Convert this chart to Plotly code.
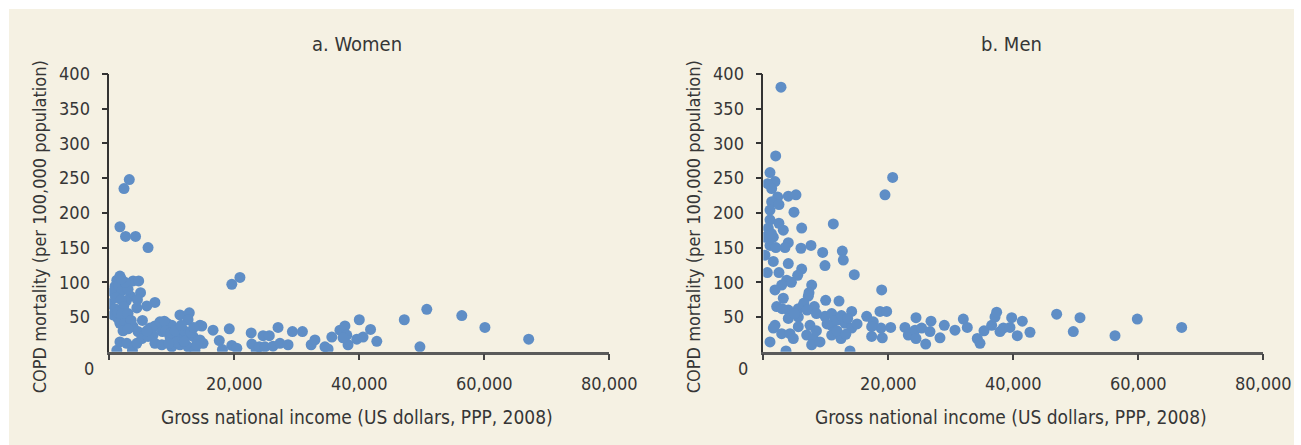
import plotly.graph_objects as go

# COPD mortality vs gross national income, by sex
women_gni = [3200, 2350, 1700, 2600, 4200, 6200, 19600, 20900,
             1700, 1200, 3800, 4700, 900, 600, 5000, 3400, 2700, 7300, 6000, 4400, 100, 900, 600, 1400,
             1700, 2500, 3300, 3800, 4600, 5700, 6500, 7300, 8100, 9200, 10000, 11300, 12800, 12600,
             14500, 8500, 7000, 9700, 11000, 12400, 13400, 14500, 15000, 1200, 1700, 2800, 3700, 4400,
             5200, 6200, 7300, 8400, 10000, 11300, 12600, 13700, 10800, 11800,
             14800, 16600, 19200, 17600, 14200, 18100, 19600, 20400, 22700, 22800, 23500, 24000, 24600,
             25600, 24900, 26200, 27000, 27300, 28600, 29300, 30900, 32300, 32900, 34500, 35000, 35600,
             36900, 37700, 38000, 38200, 37400, 39600, 40600, 40000, 41800, 42800, 47200, 50800, 49700,
             56400, 60100, 67100,
             1500, 2000, 1000, 1900, 2300, 1300, 2000, 3000, 3500, 2200, 3000, 8800, 9000, 9800, 10500,
             12000, 13000, 13500, 11500, 12000, 14000, 9500, 6000, 5300, 4500, 3000, 2500, 1900]
women_copd = [248, 235, 180, 166, 166, 150, 97, 107,
              109, 103, 102, 102, 94, 86, 85, 80, 73, 71, 66, 63, 69, 62, 53, 48,
              41, 43, 40, 36, 29, 25, 34, 37, 43, 41, 38, 53, 56, 46,
              38, 29, 24, 22, 22, 24, 22, 17, 12, 2, 14, 12, 2, 12,
              19, 22, 12, 10, 7, 10, 7, 2, 14, 17,
              37, 31, 33, 16, 15, 3, 9, 5, 27, 11, 2, 7, 23,
              23, 7, 8, 35, 12, 10, 29, 29, 10, 17, 7, 4, 21,
              31, 37, 24, 10, 20, 18, 21, 46, 32, 15, 46, 61, 7,
              52, 35, 18,
              95, 88, 78, 75, 65, 57, 55, 55, 45, 30, 33, 44, 30, 27, 30,
              30, 28, 35, 38, 15, 10, 12, 30, 45, 75, 90, 100, 105]

men_gni = [2830, 1980, 1070, 1870, 700, 1340, 2300, 4000, 5230, 1340, 2510, 1070, 4910, 19470, 20700,
           11200, 1070, 800, 3200, 6140, 270, 1600, 4000, 3470, 1070, 6030, 7630, 9500, 12640, 12800,
           9870, 270, 1600, 4000, 6140, 14560, 640, 2510, 3740, 2940, 1870, 7740, 7310, 7200, 18940,
           3200, 9980, 12110, 2140, 4000, 5600, 6400, 8160, 4000, 5600, 9870, 10940, 14140, 12000,
           13070, 16540, 17600, 18670, 18830, 1870, 1600, 2940, 4270, 4800, 5600, 7470, 6940, 8000,
           7740, 9070, 10940, 12430, 10940, 14140, 1070, 3630, 13870, 17340, 17340, 19740, 20380, 19040,
           22670, 23200, 24430, 24270, 24430, 25980, 25340, 26830, 26670, 28270, 28960, 30670, 32000,
           32640, 34240, 34670, 35310, 36540, 37070, 37340, 37870, 38400, 39740, 39470, 41440, 40640,
           42670, 46940, 50670, 49600, 56270, 59840, 66940,
           2000, 1300, 2500, 5500, 4500, 6500, 7000, 8500, 11500, 12500, 11800, 10200, 13500, 5000,
           3000, 8500, 13200, 15000]
men_copd = [381, 282, 258, 245, 242, 235, 223, 224, 226, 216, 212, 204, 201, 226, 251,
            184, 190, 178, 175, 178, 165, 165, 157, 150, 153, 149, 153, 143, 145, 132,
            124, 139, 130, 127, 119, 111, 114, 114, 103, 96, 89, 96, 85, 80, 89,
            77, 74, 73, 65, 60, 62, 67, 65, 48, 50, 51, 55, 58, 46,
            41, 51, 43, 58, 34, 38, 34, 26, 26, 19, 36, 38, 24, 19,
            10, 14, 24, 19, 38, 34, 14, 1, 1, 36, 22, 58, 35, 20,
            35, 24, 49, 31, 19, 11, 34, 44, 29, 20, 38, 31, 47,
            35, 19, 12, 30, 38, 50, 57, 29, 34, 49, 35, 44, 23,
            28, 54, 49, 29, 23, 47, 35,
            150, 170, 185, 110, 100, 70, 60, 55, 45, 52, 30, 40, 48, 55,
            62, 30, 25, 40]

panel_titles = ["a. Women", "b. Men"]
x_title = "Gross national income (US dollars, PPP, 2008)"
y_title = "COPD mortality (per 100,000 population)"
x_ticks = [0, 20000, 40000, 60000, 80000]
x_ticklabels = ["", "20,000", "40,000", "60,000", "80,000"]
y_ticks = [50, 100, 150, 200, 250, 300, 350, 400]

W, H = 1301, 445
FONT = "Liberation Sans Narrow, DejaVu Sans Condensed, Arial Narrow, sans-serif"
TEXT = "#363636"
CREAM = "#F5F1E3"
DOT = "#5F8EC6"

# plot areas in pixels: (left, right) for each panel, shared top/bottom
panels_px = [(109.3, 609.3), (763.3, 1263.3)]
top_px, bottom_px = 74.0, 351.7


def px_x(p):
    return p / W


def px_y(p):
    return 1 - p / H


fig = go.Figure()
data = [(women_gni, women_copd), (men_gni, men_copd)]
for i, (xs, ys) in enumerate(data):
    sfx = "" if i == 0 else "2"
    fig.add_trace(go.Scatter(
        x=xs, y=ys, mode="markers", xaxis="x" + sfx, yaxis="y" + sfx,
        marker=dict(size=11, color=DOT, line=dict(width=0)),
        showlegend=False, hoverinfo="x+y"))

axis_font = dict(family=FONT, size=18, color=TEXT)
layout = dict(
    width=W, height=H,
    margin=dict(l=0, r=0, t=0, b=0),
    paper_bgcolor=CREAM, plot_bgcolor=CREAM,
    font=dict(family=FONT, color=TEXT),
    shapes=[], annotations=[],
)

for i, (l, r) in enumerate(panels_px):
    sfx = "" if i == 0 else "2"
    layout["xaxis" + sfx] = dict(
        domain=[px_x(l), px_x(r)], range=[0, 80000], anchor="y" + sfx,
        tickvals=x_ticks, ticktext=x_ticklabels, ticks="outside", ticklen=6,
        tickwidth=1.5, tickcolor="#444", showline=True, linecolor="#5a5a5a",
        linewidth=2.5, showgrid=False, zeroline=False, tickfont=axis_font,
        ticklabelstandoff=8, automargin=False, fixedrange=True)
    layout["yaxis" + sfx] = dict(
        domain=[px_y(bottom_px), px_y(top_px)], range=[0, 400], anchor="x" + sfx,
        tickvals=y_ticks, ticks="outside", ticklen=6, tickwidth=1.5,
        tickcolor="#333", showline=True, linecolor="#333", linewidth=1.5,
        showgrid=False, zeroline=False, tickfont=axis_font,
        ticklabelstandoff=8, automargin=False, fixedrange=True)
    cx = (l + r) / 2
    ann = layout["annotations"]
    ann.append(dict(text=panel_titles[i], x=px_x(cx - 2), y=px_y(44), xref="paper", yref="paper",
                    showarrow=False, xanchor="center", yanchor="middle",
                    font=dict(family=FONT, size=20, color=TEXT)))
    ann.append(dict(text=x_title, x=px_x(cx - 2), y=px_y(417), xref="paper", yref="paper",
                    showarrow=False, xanchor="center", yanchor="middle",
                    font=dict(family=FONT, size=19, color=TEXT)))
    ann.append(dict(text=y_title, x=px_x(l - 70), y=px_y(227), xref="paper", yref="paper",
                    showarrow=False, xanchor="center", yanchor="middle", textangle=-90,
                    font=dict(family=FONT, size=18, color=TEXT)))
    ann.append(dict(text="0", x=px_x(l - 13), y=px_y(368), xref="paper", yref="paper",
                    showarrow=False, xanchor="right", yanchor="middle", font=axis_font))

# white frame around the cream panel
layout["shapes"] = [
    dict(type="rect", xref="paper", yref="paper", x0=0, x1=1, y0=px_y(9), y1=1,
         fillcolor="white", line=dict(width=0), layer="below"),
    dict(type="rect", xref="paper", yref="paper", x0=0, x1=px_x(9), y0=0, y1=1,
         fillcolor="white", line=dict(width=0), layer="below"),
    dict(type="rect", xref="paper", yref="paper", x0=px_x(1294), x1=1, y0=0, y1=1,
         fillcolor="white", line=dict(width=0), layer="below"),
]

fig.update_layout(**layout)
fig.write_html("out.html")
